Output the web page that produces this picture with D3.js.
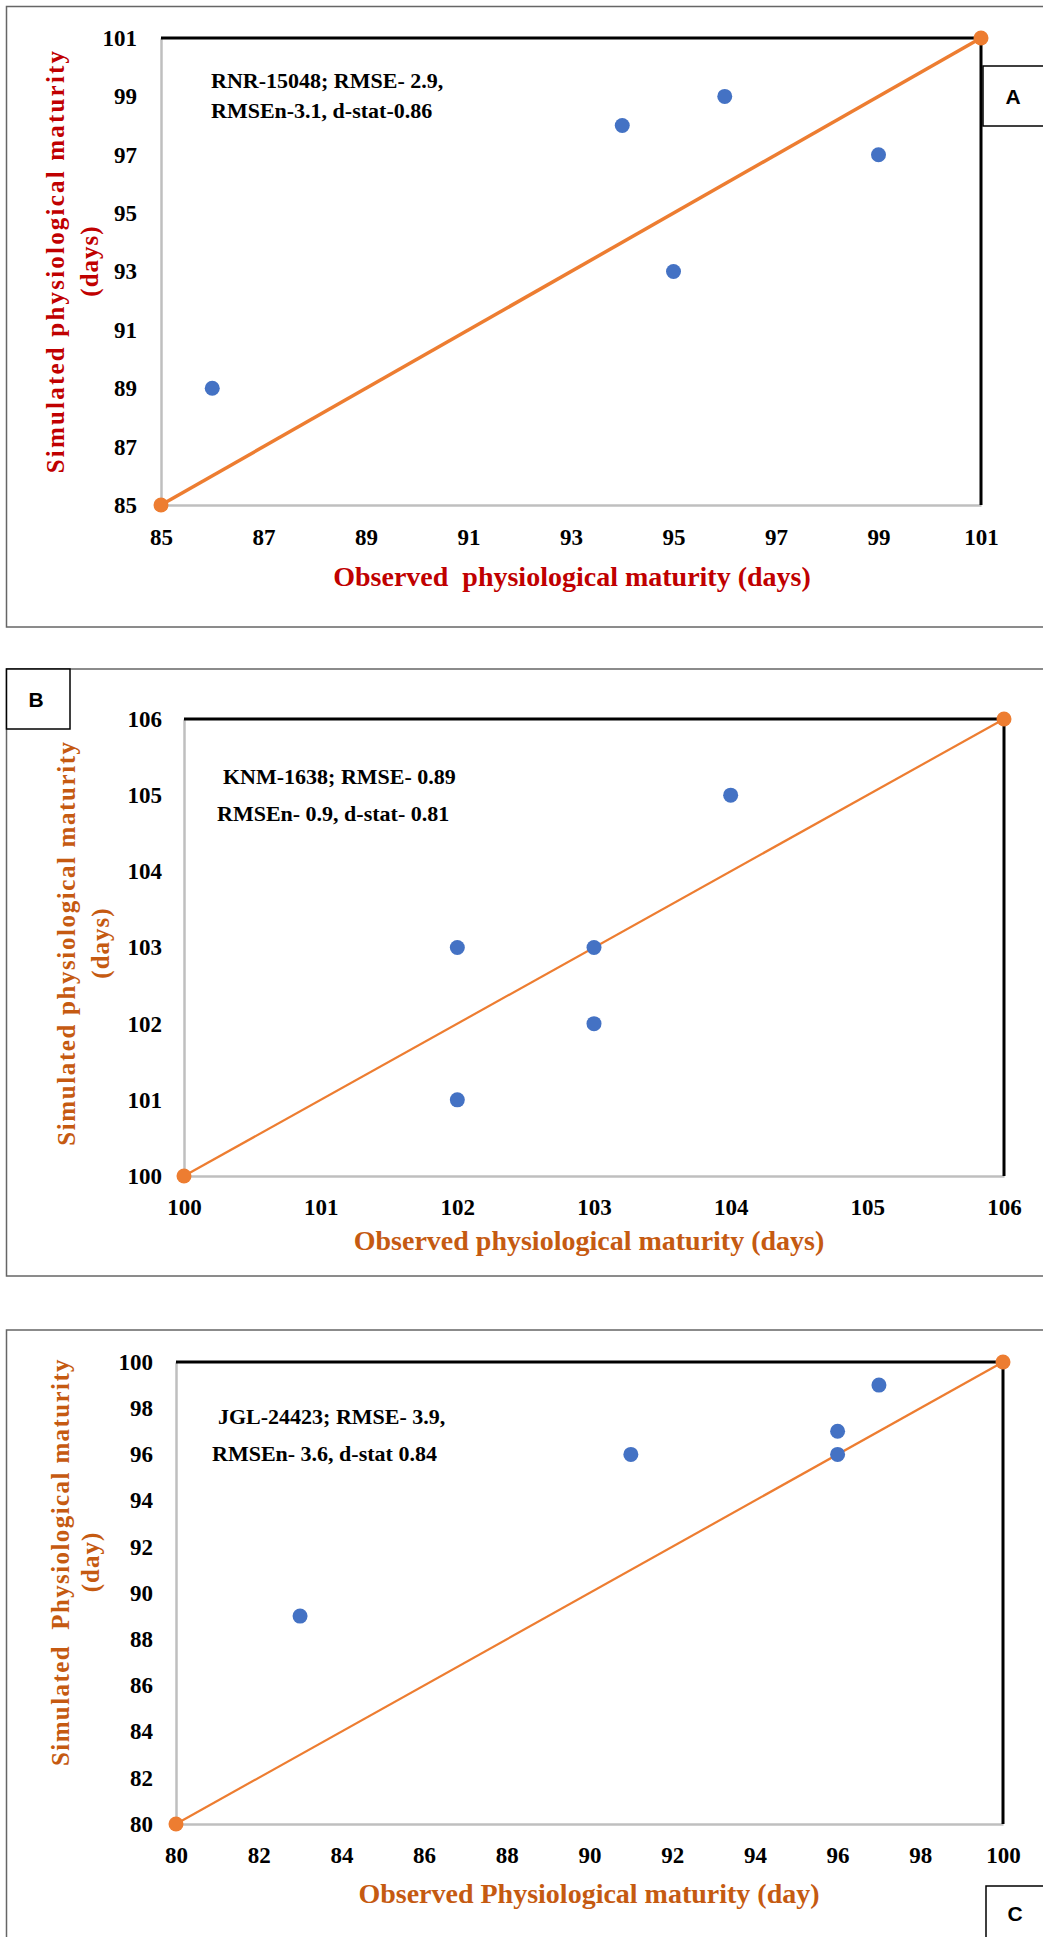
<!DOCTYPE html>
<meta charset="utf-8">
<head>
<style>
body { margin: 0; background: #fff; }
svg { display: block; }
.tick text { font-family: "Liberation Serif", "Times New Roman", serif; font-weight: bold; font-size: 23px; fill: #000; }
.note { font-family: "Liberation Serif", "Times New Roman", serif; font-weight: bold; font-size: 22px; fill: #000; }
.ttl { font-family: "Liberation Serif", "Times New Roman", serif; font-weight: bold; }
.tag { font-family: "Liberation Sans", Arial, sans-serif; font-weight: bold; font-size: 21px; }
</style>
</head>
<body>
<svg width="1043" height="1937"></svg>
<script src="https://cdn.jsdelivr.net/npm/d3@7"></script>
<script>
// panel A - RNR-15048
var obsA = [86, 94, 95, 96, 99],
    simA = [89, 98, 93, 99, 97],
    ticksA = [85, 87, 89, 91, 93, 95, 97, 99, 101],
    noteA = ["RNR-15048; RMSE- 2.9,", "RMSEn-3.1, d-stat-0.86"];

// panel B - KNM-1638
var obsB = [102, 102, 103, 103, 104],
    simB = [103, 101, 103, 102, 105],
    ticksB = [100, 101, 102, 103, 104, 105, 106],
    noteB = ["KNM-1638; RMSE- 0.89", "RMSEn- 0.9, d-stat- 0.81"];

// panel C - JGL-24423
var obsC = [83, 91, 96, 96, 97],
    simC = [89, 96, 97, 96, 99],
    ticksC = [80, 82, 84, 86, 88, 90, 92, 94, 96, 98, 100],
    noteC = ["JGL-24423; RMSE- 3.9,", "RMSEn- 3.6, d-stat 0.84"];

var blue = "#4472c4", orange = "#ed7d31";
var svg = d3.select("svg");

function panel(o) {
  var g = svg.append("g");
  // outer frame
  g.append("rect")
      .attr("x", 6.5).attr("y", o.frame[0])
      .attr("width", 1060).attr("height", o.frame[1] - o.frame[0])
      .attr("fill", "none").attr("stroke", "#666").attr("stroke-width", 1.5);

  var x = d3.scaleLinear().domain(o.dom).range([o.left, o.right]);
  var y = d3.scaleLinear().domain(o.dom).range([o.bottom, o.top]);

  // left and bottom axes (grey)
  g.append("g")
      .attr("transform", "translate(" + o.left + ",0)")
      .call(d3.axisLeft(y).tickValues(o.ticks).tickSize(0).tickPadding(o.padY).tickFormat(d3.format("d")));
  g.append("g")
      .attr("transform", "translate(0," + o.bottom + ")")
      .call(d3.axisBottom(x).tickValues(o.ticks).tickSize(0).tickPadding(o.padX).tickFormat(d3.format("d")));
  g.selectAll(".domain").attr("stroke", "#bfbfbf").attr("stroke-width", 2.5);

  // top and right borders (black)
  var d0 = o.dom[0], d1 = o.dom[1];
  g.append("line")
      .attr("x1", x(d0)).attr("x2", x(d1)).attr("y1", y(d1)).attr("y2", y(d1))
      .attr("stroke", "#000").attr("stroke-width", 3);
  g.append("line")
      .attr("x1", x(d1)).attr("x2", x(d1)).attr("y1", y(d1)).attr("y2", y(d0))
      .attr("stroke", "#000").attr("stroke-width", 3);

  // 1:1 line
  var one = [d0, d1];
  g.append("path")
      .datum(one)
      .attr("fill", "none")
      .attr("stroke", orange)
      .attr("stroke-width", o.lineW)
      .attr("d", d3.line().x(function(d) { return x(d); }).y(function(d) { return y(d); }));
  g.selectAll(".end").data(one).enter().append("circle")
      .attr("cx", function(d) { return x(d); })
      .attr("cy", function(d) { return y(d); })
      .attr("r", 7.5).attr("fill", orange);

  // observed vs simulated
  g.selectAll(".pt").data(o.obs).enter().append("circle")
      .attr("cx", function(d) { return x(d); })
      .attr("cy", function(d, i) { return y(o.sim[i]); })
      .attr("r", 7.5).attr("fill", blue);

  // stats note
  o.note.forEach(function(t, i) {
    g.append("text").attr("class", "note")
        .attr("x", o.noteX[i]).attr("y", o.noteY[i]).text(t);
  });

  // axis titles
  g.append("text").attr("class", "ttl")
      .attr("x", o.xt[0]).attr("y", o.xt[1])
      .attr("text-anchor", "middle").attr("font-size", 28)
      .attr("fill", o.col).text(o.xTitle);
  o.yTitle.forEach(function(t, i) {
    g.append("text").attr("class", "ttl")
        .attr("transform", "translate(" + o.yt[i] + "," + o.ytc + ") rotate(-90)")
        .attr("text-anchor", "middle").attr("font-size", 25)
        .attr("letter-spacing", i == 0 ? o.ls : 1)
        .attr("fill", o.col).text(t);
  });

  // panel tag
  g.append("rect")
      .attr("x", o.tag[0]).attr("y", o.tag[1]).attr("width", o.tag[2]).attr("height", o.tag[3])
      .attr("fill", "#fff").attr("stroke", "#000").attr("stroke-width", 1.5);
  g.append("text").attr("class", "tag")
      .attr("x", o.tag[4]).attr("y", o.tag[5])
      .attr("text-anchor", "middle").attr("dominant-baseline", "central")
      .text(o.tag[6]);
}

panel({
  frame: [6.5, 627], dom: [85, 101], ticks: ticksA, obs: obsA, sim: simA, note: noteA,
  left: 161, right: 981, top: 38, bottom: 505, padY: 24, padX: 24, lineW: 3.5,
  noteX: [211, 211], noteY: [88, 118],
  col: "#c00000", xTitle: "Observed\u00a0 physiological maturity (days)", xt: [572, 586],
  yTitle: ["Simulated physiological maturity", "(days)"], yt: [64, 98], ytc: 261, ls: 2.2,
  tag: [983, 66, 70, 60, 1013, 96, "A"]
});

panel({
  frame: [669, 1276], dom: [100, 106], ticks: ticksB, obs: obsB, sim: simB, note: noteB,
  left: 184, right: 1004, top: 719, bottom: 1176, padY: 22, padX: 23, lineW: 2.2,
  noteX: [223, 217], noteY: [784, 821],
  col: "#c55a11", xTitle: "Observed physiological maturity (days)", xt: [589, 1250],
  yTitle: ["Simulated physiological maturity", "(days)"], yt: [75, 109], ytc: 943, ls: 1.6,
  tag: [6.5, 669, 63.5, 60, 36, 699, "B"]
});

panel({
  frame: [1330, 1960], dom: [80, 100], ticks: ticksC, obs: obsC, sim: simC, note: noteC,
  left: 176, right: 1003, top: 1362, bottom: 1824, padY: 23, padX: 23, lineW: 2.2,
  noteX: [218, 212], noteY: [1424, 1461],
  col: "#c55a11", xTitle: "Observed Physiological maturity (day)", xt: [589, 1903],
  yTitle: ["Simulated\u00a0 Physiological maturity", "(day)"], yt: [69, 99], ytc: 1562, ls: 1.4,
  tag: [986, 1886, 70, 60, 1015, 1913, "C"]
});
</script>
</body>
</html>
